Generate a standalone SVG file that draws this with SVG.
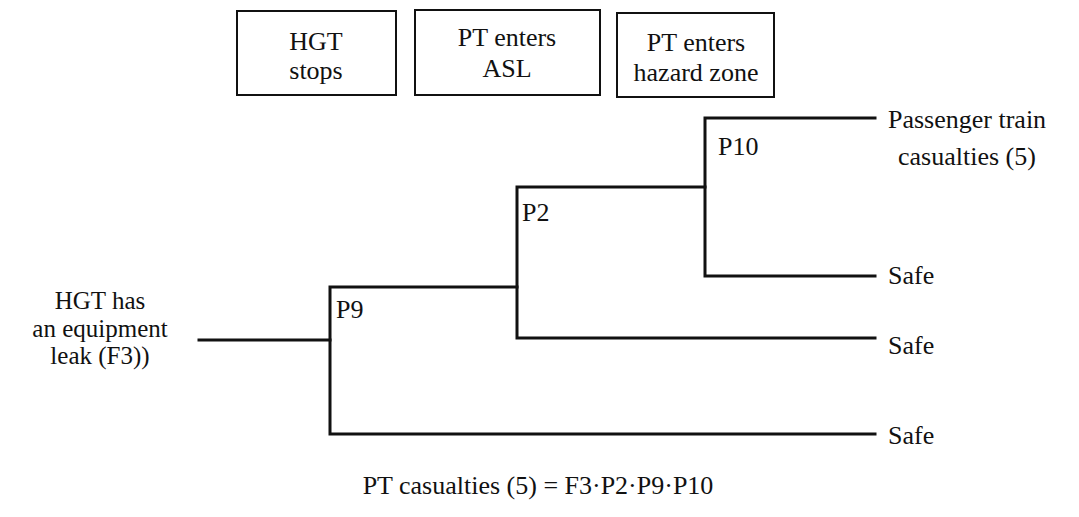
<svg xmlns="http://www.w3.org/2000/svg" width="1079" height="517" viewBox="0 0 1079 517" font-family="'Liberation Serif', 'Times New Roman', serif">
  <style>
    text { font-family: 'Liberation Serif', 'Times New Roman', serif; font-size: 26px; fill: #111; }
    .mid { text-anchor: middle; }
    .lbl { font-size: 25px; }
    .box { fill: #fff; stroke: #111; stroke-width: 2; }
    .edge { fill: none; stroke: #111; stroke-width: 3; stroke-linecap: square; }
  </style>
  <rect width="1079" height="517" fill="#fff"/>

  <!-- event headings -->
  <g id="hdr-hgt-stops">
    <rect class="box" x="237" y="11" width="159" height="84"/>
    <text class="mid" x="316" y="50">HGT</text>
    <text class="mid" x="316" y="79">stops</text>
  </g>
  <g id="hdr-pt-asl">
    <rect class="box" x="415" y="10" width="185" height="85"/>
    <text class="mid" x="507" y="46">PT enters</text>
    <text class="mid" x="507" y="77">ASL</text>
  </g>
  <g id="hdr-pt-hazard">
    <rect class="box" x="617" y="13" width="157" height="84"/>
    <text class="mid" x="696" y="51">PT enters</text>
    <text class="mid" x="696" y="81">hazard zone</text>
  </g>

  <!-- tree branches -->
  <g id="connectors">
    <path class="edge" d="M199 340 H330"/>
    <path class="edge" d="M517 287 H330 V434 H875"/>
    <path class="edge" d="M705 187 H517 V338 H875"/>
    <path class="edge" d="M875 118 H705 V276 H875"/>
  </g>

  <!-- initiating event -->
  <g id="init">
    <text class="mid lbl" x="100" y="309">HGT has</text>
    <text class="mid lbl" x="100" y="337">an equipment</text>
    <text class="mid lbl" x="100" y="364">leak (F3))</text>
  </g>

  <!-- branch probabilities -->
  <g id="p9"><text x="336" y="318">P9</text></g>
  <g id="p2"><text x="522" y="221">P2</text></g>
  <g id="p10"><text x="718" y="155">P10</text></g>

  <!-- outcomes -->
  <g id="out-casualties">
    <text x="888" y="128">Passenger train</text>
    <text x="898" y="165">casualties (5)</text>
  </g>
  <g id="out-safe-1"><text x="888" y="284">Safe</text></g>
  <g id="out-safe-2"><text x="888" y="354">Safe</text></g>
  <g id="out-safe-3"><text x="888" y="444">Safe</text></g>

  <!-- frequency expression -->
  <g id="formula">
    <text class="mid" x="538" y="494">PT casualties (5) = F3·P2·P9·P10</text>
  </g>
</svg>
